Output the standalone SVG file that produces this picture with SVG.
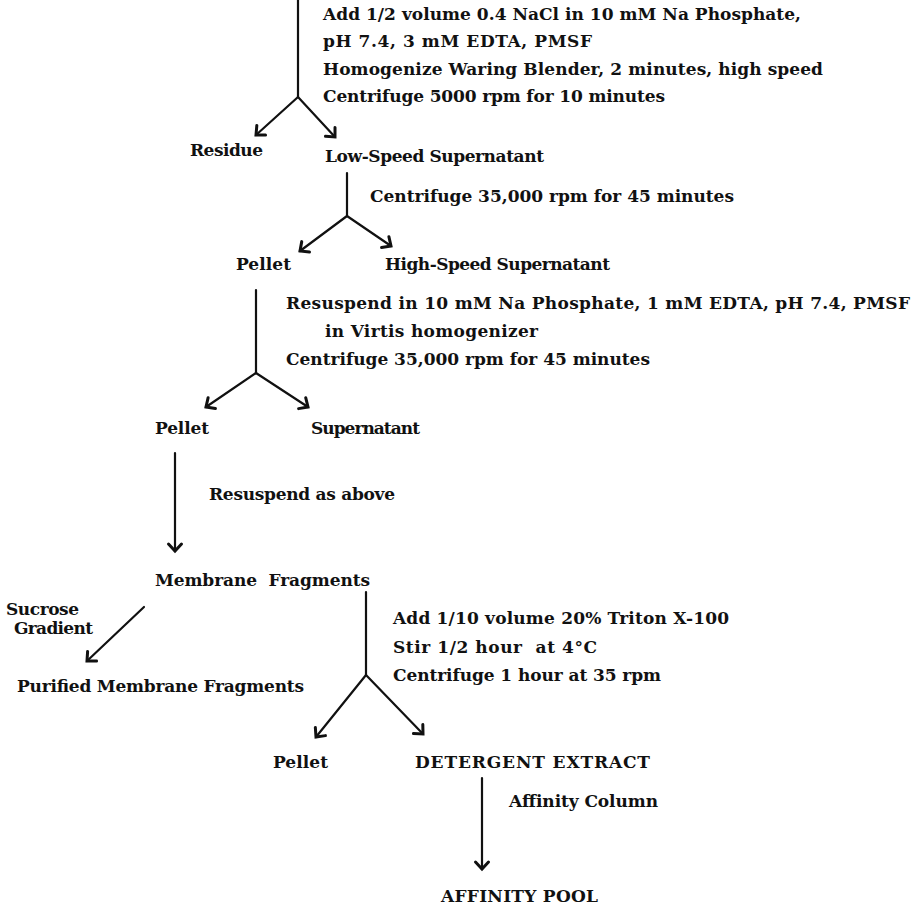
<svg xmlns="http://www.w3.org/2000/svg" width="919" height="906" viewBox="0 0 919 906">
<style>
text { font-family: "DejaVu Serif", "Liberation Serif", serif; font-weight: bold; font-size: 17px; fill: #111; }
.c { stroke: #111; stroke-width: 2.2; fill: none; stroke-linecap: round; }
.a { marker-end: url(#ah); }
</style>
<defs>
<marker id="ah" markerUnits="userSpaceOnUse" markerWidth="20" markerHeight="20" viewBox="0 0 20 20" refX="10" refY="10" orient="auto">
<path d="M3,3.5 L10,10 L3,16.5" fill="none" stroke="#111" stroke-width="3" stroke-linecap="round" stroke-linejoin="miter"/>
</marker>
</defs>
<rect width="919" height="906" fill="#fff"/>

<g id="connectors">
<path class="c" d="M298,0 L298,97"/>
<path class="c a" d="M298,97 L256,135"/>
<path class="c a" d="M298,97 L335,137"/>
<path class="c" d="M347,173 L347,216"/>
<path class="c a" d="M347,216 L300,251"/>
<path class="c a" d="M347,216 L391,246"/>
<path class="c" d="M256,290 L256,373"/>
<path class="c a" d="M256,373 L206,407"/>
<path class="c a" d="M256,373 L308,407"/>
<path class="c a" d="M175,453 L175,551"/>
<path class="c a" d="M144,607 L87,661"/>
<path class="c" d="M366,592 L366,675"/>
<path class="c a" d="M366,675 L316,737"/>
<path class="c a" d="M366,675 L423,734"/>
<path class="c a" d="M482,778 L482,869"/>
</g>

<g id="step1">
<text x="323" y="20" textLength="478">Add 1/2 volume 0.4 NaCl in 10 mM Na Phosphate,</text>
<text x="323" y="47" textLength="269">pH 7.4, 3 mM EDTA, PMSF</text>
<text x="323" y="75" textLength="500">Homogenize Waring Blender, 2 minutes, high speed</text>
<text x="323" y="102" textLength="342">Centrifuge 5000 rpm for 10 minutes</text>
</g>
<g id="residue"><text x="190" y="156" textLength="73">Residue</text></g>
<g id="low-speed-supernatant"><text x="325" y="162" textLength="219">Low-Speed Supernatant</text></g>
<g id="step2"><text x="370" y="202" textLength="364">Centrifuge 35,000 rpm for 45 minutes</text></g>
<g id="pellet1"><text x="236" y="270" textLength="55">Pellet</text></g>
<g id="high-speed-supernatant"><text x="385" y="270" textLength="225">High-Speed Supernatant</text></g>
<g id="step3">
<text x="286" y="309" textLength="624">Resuspend in 10 mM Na Phosphate, 1 mM EDTA, pH 7.4, PMSF</text>
<text x="325" y="337" textLength="213">in Virtis homogenizer</text>
<text x="286" y="365" textLength="364">Centrifuge 35,000 rpm for 45 minutes</text>
</g>
<g id="pellet2"><text x="155" y="434" textLength="54">Pellet</text></g>
<g id="supernatant"><text x="311" y="434" textLength="109">Supernatant</text></g>
<g id="step4"><text x="209" y="500" textLength="186">Resuspend as above</text></g>
<g id="membrane-fragments"><text x="155" y="586" textLength="215" xml:space="preserve">Membrane  Fragments</text></g>
<g id="sucrose-gradient">
<text x="6" y="615" textLength="73">Sucrose</text>
<text x="14" y="634" textLength="79">Gradient</text>
</g>
<g id="purified-membrane-fragments"><text x="17" y="692" textLength="287">Purified Membrane Fragments</text></g>
<g id="step5">
<text x="393" y="624" textLength="336">Add 1/10 volume 20% Triton X-100</text>
<text x="393" y="653" textLength="204" xml:space="preserve">Stir 1/2 hour  at 4°C</text>
<text x="393" y="681" textLength="268">Centrifuge 1 hour at 35 rpm</text>
</g>
<g id="pellet3"><text x="273" y="768" textLength="55">Pellet</text></g>
<g id="detergent-extract"><text x="415" y="768" textLength="235">DETERGENT EXTRACT</text></g>
<g id="step6"><text x="509" y="807" textLength="149">Affinity Column</text></g>
<g id="affinity-pool"><text x="441" y="902" textLength="157">AFFINITY POOL</text></g>
</svg>
